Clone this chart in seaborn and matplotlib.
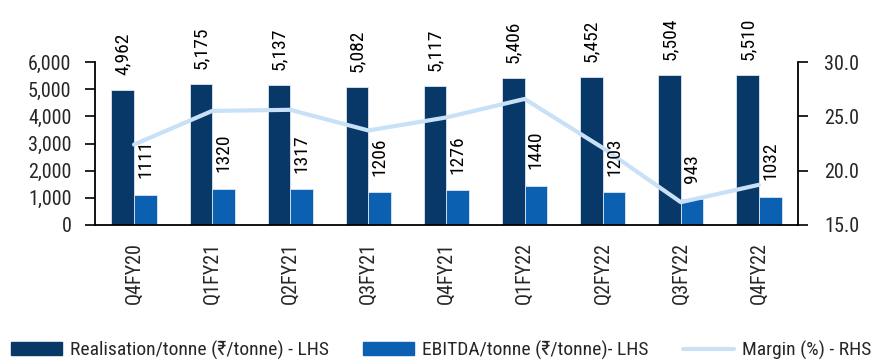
import numpy as np
import pandas as pd
import matplotlib
matplotlib.use("Agg")
import matplotlib.pyplot as plt
import seaborn as sns
from matplotlib.ticker import FuncFormatter, FixedLocator
from matplotlib.lines import Line2D
from matplotlib.patches import Patch

quarters = ["Q4FY20", "Q1FY21", "Q2FY21", "Q3FY21", "Q4FY21", "Q1FY22", "Q2FY22", "Q3FY22", "Q4FY22"]
realisation = [4962, 5175, 5137, 5082, 5117, 5406, 5452, 5504, 5510]
ebitda = [1111, 1320, 1317, 1206, 1276, 1440, 1203, 943, 1032]
margin = [22.4, 25.5, 25.6, 23.7, 24.9, 26.6, 22.1, 17.1, 18.7]

s_real = "Realisation/tonne (₹/tonne) - LHS"
s_ebit = "EBITDA/tonne (₹/tonne)- LHS"
s_marg = "Margin (%) - RHS"

c_dark = "#083868"
c_blue = "#0b60b2"
c_line = "#c8e1f7"

sns.set_style("white")
FONT = ["Roboto Condensed", "DejaVu Sans"]
plt.rcParams["font.family"] = FONT

df = pd.DataFrame({
    "quarter": quarters * 2,
    "value": realisation + ebitda,
    "series": [s_real] * len(quarters) + [s_ebit] * len(quarters),
})

fig = plt.figure(figsize=(8.82, 3.6), dpi=100)
ax = fig.add_axes([95 / 882, 1 - 225 / 360, (798 - 95) / 882, (225 - 62) / 360])

sns.barplot(data=df, x="quarter", y="value", hue="series", order=quarters,
            hue_order=[s_real, s_ebit], palette=[c_dark, c_blue], width=0.58,
            saturation=1, edgecolor="#dce6f0", linewidth=0.6, ax=ax, legend=False)

ax.set_ylim(0, 6000)
ax.yaxis.set_major_locator(FixedLocator(np.arange(0, 6001, 1000)))
ax.yaxis.set_major_formatter(FuncFormatter(lambda v, p: f"{int(v):,}"))
ax.set_xlim(-0.5, len(quarters) - 0.5)
ax.set_xlabel("")
ax.set_ylabel("")

ax.set_xticks(np.arange(-0.5, len(quarters), 1.0))
ax.set_xticklabels([])
ax.set_xticks(np.arange(len(quarters)), minor=True)
ax.set_xticklabels(quarters, minor=True, rotation=90, fontsize=14.5)
ax.tick_params(axis="x", which="major", length=7, width=1.2, direction="out", color="black")
ax.tick_params(axis="x", which="minor", length=0, pad=12)
ax.tick_params(axis="y", which="major", length=7, width=1.2, direction="out",
               labelsize=14.5, color="black", pad=10)

for side in ["top", "right"]:
    ax.spines[side].set_visible(False)
for side in ["left", "bottom"]:
    ax.spines[side].set_color("black")
    ax.spines[side].set_linewidth(1.3)

ax2 = ax.twinx()
mdf = pd.DataFrame({"idx": np.arange(len(quarters)), "margin": margin})
sns.lineplot(data=mdf, x="idx", y="margin", color=c_line, linewidth=3, ax=ax2)
ax2.set_ylim(15, 30)
ax2.yaxis.set_major_locator(FixedLocator([15, 20, 25, 30]))
ax2.yaxis.set_major_formatter(FuncFormatter(lambda v, p: f"{v:.1f}"))
ax2.set_ylabel("")
ax2.set_xlabel("")
ax2.set_xlim(-0.5, len(quarters) - 0.5)
ax2.tick_params(axis="y", length=7, width=1.2, direction="out", labelsize=14.5,
                color="black", pad=12)
for side in ["top", "left", "bottom"]:
    ax2.spines[side].set_visible(False)
ax2.spines["right"].set_color("black")
ax2.spines["right"].set_linewidth(1.3)

# bar value labels drawn on top of the margin line (placed from the bars' own geometry)
conts = ax.containers
for cont, vals, fmt, pad in [(conts[0], realisation, "{:,}", 11), (conts[1], ebitda, "{}", 12)]:
    for bar, v in zip(cont.patches, vals):
        xc = bar.get_x() + bar.get_width() / 2
        ax2.annotate(fmt.format(v), xy=(xc, bar.get_height()), xycoords=ax.transData,
                     xytext=(0, pad), textcoords="offset points", rotation=90,
                     ha="center", va="bottom", fontsize=14, color="black",
                     annotation_clip=False, zorder=5)

handles = [Patch(facecolor=c_dark, edgecolor=c_dark),
           Patch(facecolor=c_blue, edgecolor=c_blue),
           Line2D([0], [0], color=c_line, linewidth=3)]
fig.legend(handles, [s_real, s_ebit, s_marg], loc="center", ncol=3,
           bbox_to_anchor=(0.5, 1 - 350 / 360), frameon=False, fontsize=14,
           handlelength=2.6, handleheight=0.6, columnspacing=1.8, handletextpad=0.4,
           borderpad=0, borderaxespad=0)

fig.savefig("out.png", dpi=100)
